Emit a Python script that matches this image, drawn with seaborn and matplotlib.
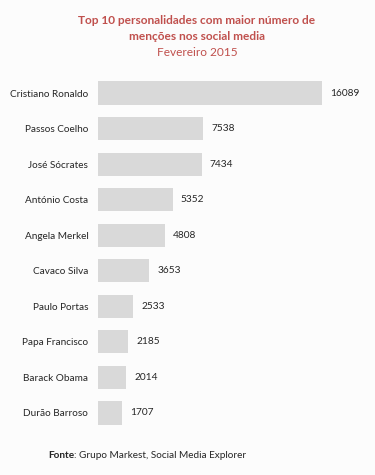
import matplotlib
matplotlib.use("Agg")
import matplotlib.pyplot as plt
import seaborn as sns
import pandas as pd

names = ["Cristiano Ronaldo", "Passos Coelho", "José Sócrates", "António Costa",
         "Angela Merkel", "Cavaco Silva", "Paulo Portas", "Papa Francisco",
         "Barack Obama", "Durão Barroso"]
mentions = [16089, 7538, 7434, 5352, 4808, 3653, 2533, 2185, 2014, 1707]

title_lines = ["Top 10 personalidades com maior número de", "menções nos social media"]
subtitle = "Fevereiro 2015"
source_bold = "Fonte"
source_rest = ": Grupo Markest, Social Media Explorer"

sns.set_theme(style="white")
plt.rcParams["font.family"] = ["Lato", "DejaVu Sans"]

bg = "#FCFCFC"
fig = plt.figure(figsize=(3.75, 4.75), dpi=100, facecolor=bg)
ax = fig.add_axes([0.2613, 0.0932, 0.6684, 0.7484], facecolor=bg)

df = pd.DataFrame({"name": names, "mentions": mentions})
sns.barplot(data=df, x="mentions", y="name", color="#D9D9D9", saturation=1,
            width=0.65, ax=ax, edgecolor="none")
ax.set_xlim(0, 18000)
for c in ax.containers:
    ax.bar_label(c, labels=[str(v) for v in mentions], padding=6,
                 fontsize=7.3, color="#262626")

ax.set_xlabel("")
ax.set_ylabel("")
ax.set_xticks([])
ax.tick_params(axis="y", length=0, pad=7, labelsize=7.2, labelcolor="#262626")
for s in ax.spines.values():
    s.set_visible(False)

red = "#C0504D"
fig.text(0.525, 1 - 20 / 475, title_lines[0], ha="center", va="center",
         fontsize=8.6, fontweight="bold", color=red)
fig.text(0.525, 1 - 36 / 475, title_lines[1], ha="center", va="center",
         fontsize=8.6, fontweight="bold", color=red)
fig.text(0.525, 1 - 52 / 475, subtitle, ha="center", va="center",
         fontsize=8.6, color=red)

t = fig.text(48 / 375, 1 - 455 / 475, source_bold, ha="left", va="center",
             fontsize=7.2, fontweight="bold", color="#262626")
fig.canvas.draw()
bb = t.get_window_extent()
fig.text(bb.x1 / fig.bbox.width, 1 - 455 / 475, source_rest, ha="left",
         va="center", fontsize=7.2, color="#262626")

fig.savefig("out.png", dpi=100, facecolor=bg)
